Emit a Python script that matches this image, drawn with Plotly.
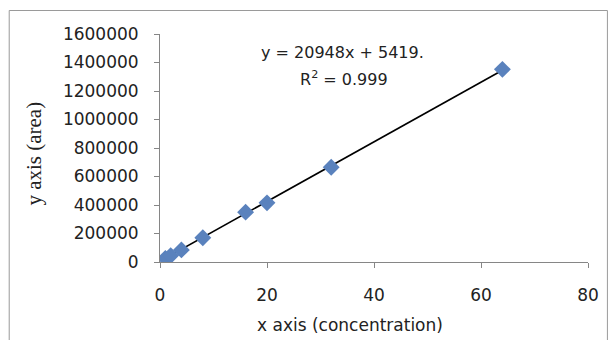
import plotly.graph_objects as go

# Data (concentration vs area)
conc = [1, 2, 4, 8, 16, 20, 32, 64]
area = [25000, 45000, 85000, 170000, 350000, 415000, 665000, 1352000]

slope = 20948
intercept = 5419
eq_text = "y = 20948x + 5419."
r2_text = "R<sup>2</sup> = 0.999"

x_ticks = [0, 20, 40, 60, 80]
y_ticks = [0, 200000, 400000, 600000, 800000, 1000000, 1200000, 1400000, 1600000]

W, H = 611, 340
L, R, T, B = 160, 21, 34, 78
pw, ph = W - L - R, H - T - B

def px(x):
    return (x - L) / pw

def py(y):
    return (H - B - y) / ph

fig = go.Figure()

line_x = [min(conc), max(conc)]
line_y = [slope * v + intercept for v in line_x]
fig.add_trace(go.Scatter(x=line_x, y=line_y, mode="lines",
                         line=dict(color="black", width=1.6), showlegend=False))
fig.add_trace(go.Scatter(x=conc, y=area, mode="markers",
                         marker=dict(symbol="diamond", size=13, color="#5A82BD",
                                     line=dict(width=0)),
                         showlegend=False))

axis_font = dict(family="DejaVu Sans", size=17, color="#222222")

fig.update_layout(
    width=W, height=H,
    margin=dict(l=L, r=R, t=T, b=B),
    paper_bgcolor="white", plot_bgcolor="white",
    xaxis=dict(range=[0, 80], tickvals=x_ticks, ticktext=[str(v) for v in x_ticks],
               showgrid=False, zeroline=False, showline=True, linecolor="#868686",
               linewidth=1, ticks="outside", ticklen=5, tickcolor="#868686",
               tickfont=axis_font, ticklabelstandoff=13),
    yaxis=dict(range=[0, 1600000], tickvals=y_ticks, ticktext=[str(v) for v in y_ticks],
               showgrid=False, zeroline=False, showline=True, linecolor="#868686",
               linewidth=1, ticks="outside", ticklen=5, tickcolor="#868686",
               tickfont=axis_font, ticklabelstandoff=12),
    font=dict(family="DejaVu Sans", color="#222222"),
)

fig.add_annotation(x=px(343), y=py(52), xref="paper", yref="paper", text=eq_text,
                   showarrow=False, font=dict(family="DejaVu Sans", size=16, color="#222222"),
                   xanchor="center", yanchor="middle")
fig.add_annotation(x=px(345), y=py(79), xref="paper", yref="paper", text=r2_text,
                   showarrow=False, font=dict(family="DejaVu Sans", size=16, color="#222222"),
                   xanchor="center", yanchor="middle")
fig.add_annotation(x=px(351), y=py(325), xref="paper", yref="paper",
                   text="x axis (concentration)", showarrow=False,
                   font=dict(family="DejaVu Sans", size=17, color="#222222"),
                   xanchor="center", yanchor="middle")
fig.add_annotation(x=px(33), y=py(154), xref="paper", yref="paper",
                   text="y axis (area)", showarrow=False, textangle=-90,
                   font=dict(family="Liberation Serif", size=21, color="#222222"),
                   xanchor="center", yanchor="middle")

fig.add_shape(type="rect", xref="paper", yref="paper",
              x0=px(8.5), x1=px(609.5), y0=py(350), y1=py(10.5),
              line=dict(color="#9a9a9a", width=1), fillcolor="rgba(0,0,0,0)",
              layer="below")

fig.write_html("out.html")
